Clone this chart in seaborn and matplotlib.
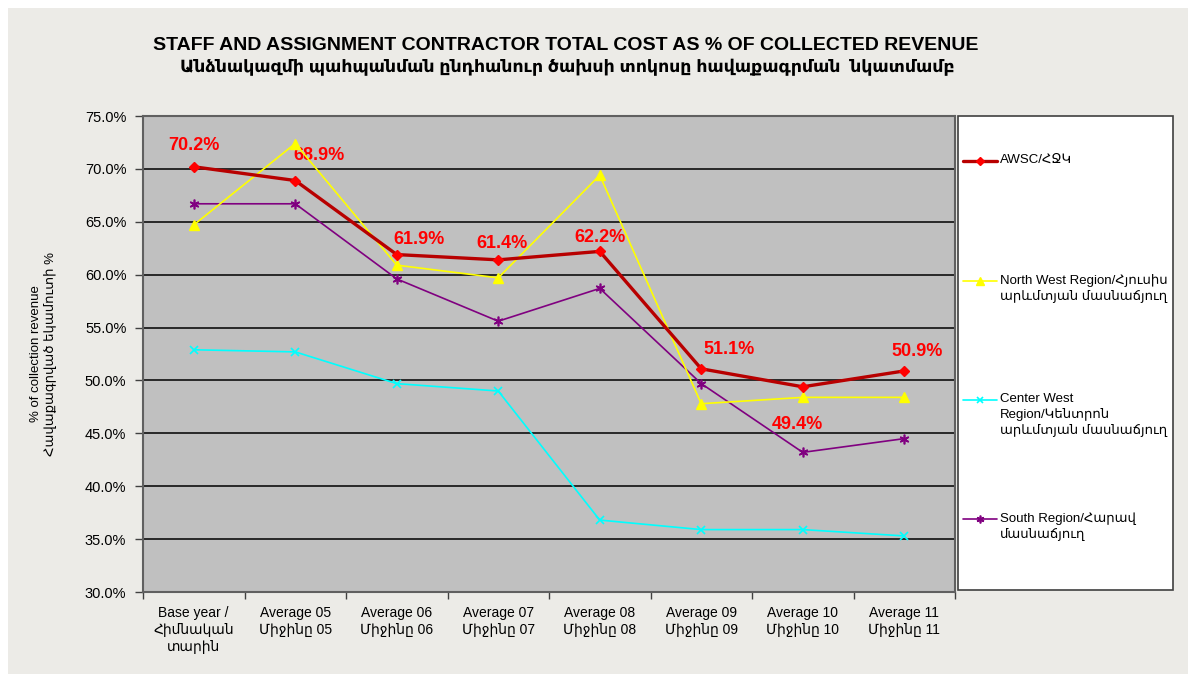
import matplotlib
matplotlib.use("Agg")
import matplotlib.pyplot as plt
import matplotlib.patches as mpatches
import matplotlib.lines as mlines
import seaborn as sns
from matplotlib.ticker import FuncFormatter, FixedLocator

# ---- data ----
categories = ["Base year /\nՀիմնական\nտարին", "Average 05\nՄիջինը 05", "Average 06\nՄիջինը 06",
              "Average 07\nՄիջինը 07", "Average 08\nՄիջինը 08", "Average 09\nՄիջինը 09",
              "Average 10\nՄիջինը 10", "Average 11\nՄիջինը 11"]
awsc = [70.2, 68.9, 61.9, 61.4, 62.2, 51.1, 49.4, 50.9]
north_west = [64.7, 72.4, 60.9, 59.7, 69.4, 47.8, 48.4, 48.4]
center_west = [52.9, 52.7, 49.7, 49.0, 36.8, 35.9, 35.9, 35.3]
south = [66.7, 66.7, 59.6, 55.6, 58.7, 49.7, 43.2, 44.5]

series_labels = ["AWSC/ՀՋԿ",
                 "North West Region/Հյուսիս\nարևմտյան մասնաճյուղ",
                 "Center West\nRegion/Կենտրոն\nարևմտյան մասնաճյուղ",
                 "South Region/Հարավ\nմասնաճյուղ"]

FONT = ["Liberation Sans", "DejaVu Sans"]

sns.set_theme(style="white")
plt.rcParams["font.family"] = FONT

W, H = 1196, 682
fig = plt.figure(figsize=(W / 100, H / 100), dpi=100, facecolor="white")

# grey slide background
fig.patches.append(mpatches.Rectangle((8 / W, 8 / H), 1 - 16 / W, 1 - 16 / H,
                                      transform=fig.transFigure, facecolor="#ecebe7",
                                      edgecolor="none", zorder=-10))

ax = fig.add_axes([143 / W, 1 - 592 / H, (955 - 143) / W, (592 - 116) / H])
ax.set_facecolor("#c0c0c0")

styles = [
    dict(color="#b80000", lw=2.4, marker="D", ms=5, mfc="#ff0000", mec="#ff0000", zorder=5),
    dict(color="#ffff00", lw=1.2, marker="^", ms=7, mfc="#ffff00", mec="#ffff00", zorder=4),
    dict(color="#00ffff", lw=1.2, marker="x", ms=6, mfc="#00ffff", mec="#00ffff", mew=1.2, zorder=3),
    dict(color="#800080", lw=1.2, marker=(6, 2, 0), ms=7, mfc="#800080", mec="#800080", mew=1.2, zorder=3),
]
all_series = [awsc, north_west, center_west, south]

for vals, st in zip(all_series, styles):
    sns.lineplot(x=categories, y=vals, sort=False, ax=ax, color=st["color"],
                 linewidth=st["lw"], marker=st["marker"], markersize=st["ms"],
                 markerfacecolor=st["mfc"], markeredgecolor=st["mec"],
                 markeredgewidth=st.get("mew", 1), zorder=st["zorder"])

ax.set_xlim(-0.5, len(categories) - 0.5)
ax.set_ylim(30, 75)
ax.yaxis.set_major_locator(FixedLocator([30, 35, 40, 45, 50, 55, 60, 65, 70, 75]))
ax.yaxis.set_major_formatter(FuncFormatter(lambda v, p: f"{v:.1f}%"))
ax.grid(axis="y", color="black", lw=1.1)
ax.grid(axis="x", visible=False)
ax.set_axisbelow(True)

ax.set_xticks(range(len(categories)))
ax.set_xticklabels(categories, fontsize=10, linespacing=1.3, color="black")
ax.xaxis.set_minor_locator(FixedLocator([i - 0.5 for i in range(len(categories) + 1)]))
ax.tick_params(axis="x", which="major", length=0, pad=10)
ax.tick_params(axis="x", which="minor", length=5, width=1, color="#404040", direction="out", bottom=True)
ax.tick_params(axis="y", length=6, width=1, color="#404040", direction="out", left=True,
               labelsize=10.5, labelcolor="black", pad=6)
for s in ax.spines.values():
    s.set_color("#606060")
    s.set_linewidth(1.5)
ax.set_xlabel("")
ax.set_ylabel("% of collection revenue\nՀավաքագրված եկամուտի %", fontsize=9.5,
              linespacing=1.2, labelpad=20, color="black")

# AWSC data labels (offsets in points)
offsets = [(0, 15), (17, 18), (16, 11), (3, 12), (0, 10), (20, 14), (-4, -27), (9, 14)]
for i, (v, off) in enumerate(zip(awsc, offsets)):
    ax.annotate(f"{v:.1f}%", (i, v), xytext=off, textcoords="offset points",
                ha="center", va="center", color="#ff0000", fontsize=13, fontweight="bold")

# titles
fig.text(566 / W, 1 - 46 / H, "STAFF AND ASSIGNMENT CONTRACTOR TOTAL COST AS % OF COLLECTED REVENUE",
         ha="center", va="center", fontsize=14, fontweight="bold", color="black")
fig.text(567 / W, 1 - 67 / H, "Անձնակազմի պահպանման ընդհանուր ծախսի տոկոսը հավաքագրման  նկատմամբ",
         ha="center", va="center", fontsize=12.5, fontweight="bold", color="black")

# legend panel
fig.patches.append(mpatches.Rectangle((958 / W, 1 - 590 / H), (1173 - 958) / W, (590 - 116) / H,
                                      transform=fig.transFigure, facecolor="white",
                                      edgecolor="#404040", lw=1.2, zorder=1))
legend_rows = [161, 281, 400, 519]
for lab, st, yrow in zip(series_labels, styles, legend_rows):
    yf = 1 - yrow / H
    fig.lines.append(mlines.Line2D([963 / W, 997 / W], [yf, yf], transform=fig.transFigure,
                                   color=st["color"], lw=st["lw"], zorder=2))
    fig.lines.append(mlines.Line2D([980 / W], [yf], transform=fig.transFigure, linestyle="none",
                                   marker=st["marker"], ms=st["ms"] * 0.8, mfc=st["mfc"], mec=st["mec"],
                                   mew=st.get("mew", 1), zorder=3))
    fig.text(1000 / W, 1 - (yrow - 7) / H, lab, ha="left", va="top", fontsize=9.5,
             linespacing=1.3, color="black", zorder=3)

fig.savefig("out.png", dpi=100, facecolor=fig.get_facecolor())
